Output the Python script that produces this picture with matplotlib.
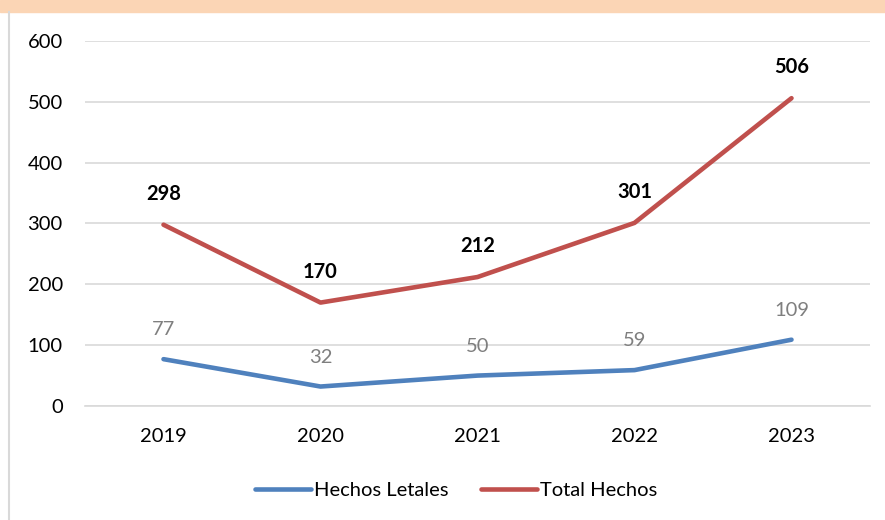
import matplotlib.pyplot as plt
from matplotlib.patches import Rectangle
from matplotlib.lines import Line2D

plt.rcParams['font.family'] = ['Lato', 'DejaVu Sans']

years = ['2019', '2020', '2021', '2022', '2023']
letales = [77, 32, 50, 59, 109]
total = [298, 170, 212, 301, 506]

blue = '#4F81BD'
red = '#C0504D'

fig = plt.figure(figsize=(8.85, 5.2), dpi=100)
# orange strip on top and grey frame line at left
fig.patches.append(Rectangle((0, 1 - 12 / 520), 1, 12 / 520, transform=fig.transFigure,
                             color='#FBD5B5', zorder=0))
fig.add_artist(Line2D([8.5 / 885, 8.5 / 885], [0, 1 - 12 / 520], transform=fig.transFigure,
                      color='#D9D9D9', lw=1.5))

ax = fig.add_axes([85 / 885, 1 - 406 / 520, (870 - 85) / 885, (406 - 41) / 520])
x = range(len(years))
ax.plot(x, letales, color=blue, lw=3.3, solid_capstyle='round', label='Hechos Letales')
ax.plot(x, total, color=red, lw=3.3, solid_capstyle='round', label='Total Hechos')

for i, v in enumerate(letales):
    ax.annotate(str(v), (i, v), xytext=(0, 15), textcoords='offset points',
                ha='center', va='bottom', fontsize=14.5, color='#7F7F7F')
for i, v in enumerate(total):
    ax.annotate(str(v), (i, v), xytext=(0, 15), textcoords='offset points',
                ha='center', va='bottom', fontsize=14.5, color='black', fontweight='bold')

ax.set_xlim(-0.5, 4.5)
ax.set_ylim(0, 600)
ax.set_yticks(range(0, 601, 100))
ax.set_xticks(list(x))
ax.set_xticklabels(years)
ax.grid(axis='y', color='#D9D9D9', lw=1.2)
ax.set_axisbelow(True)
for s in ['top', 'right', 'left']:
    ax.spines[s].set_visible(False)
ax.spines['bottom'].set_color('#D9D9D9')
ax.spines['bottom'].set_linewidth(1.2)
ax.tick_params(length=0, labelsize=14.5, colors='black')
ax.tick_params(axis='y', pad=16)
ax.tick_params(axis='x', pad=16)

fig.legend(loc='center', bbox_to_anchor=(456 / 885, 1 - 490 / 520), ncol=2, frameon=False,
           fontsize=14.5, handlelength=2.8, handletextpad=0.15, columnspacing=1.6)

fig.savefig('out.png', dpi=100)
